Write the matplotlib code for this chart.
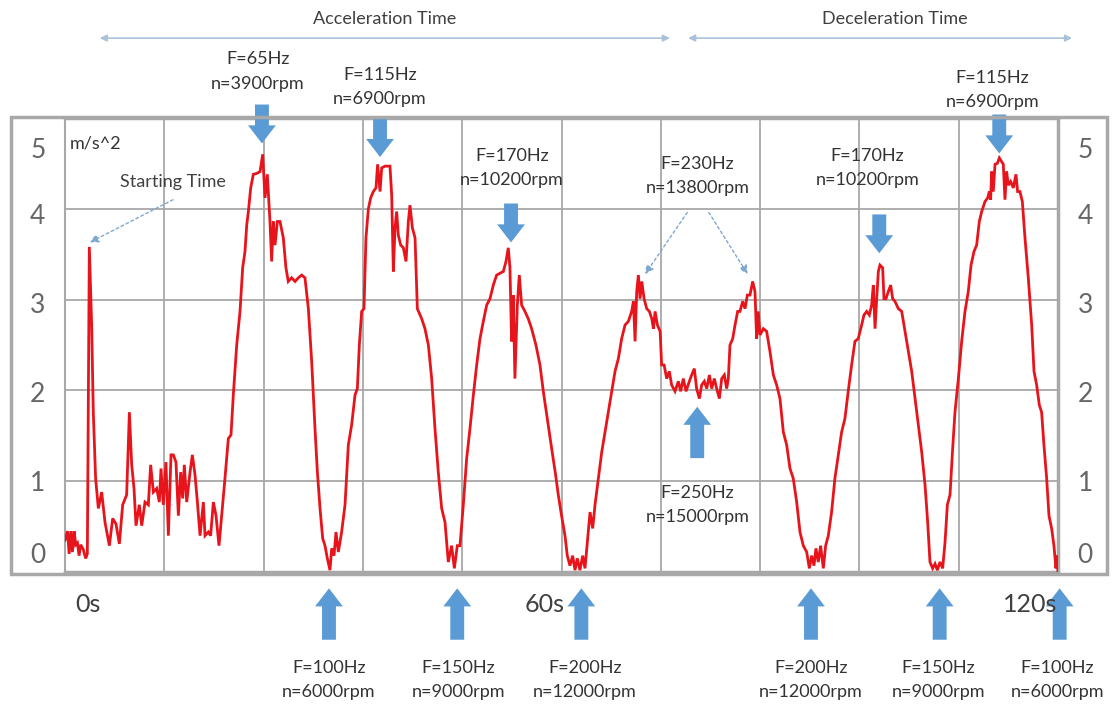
import matplotlib
matplotlib.use("Agg")
import matplotlib.pyplot as plt
from matplotlib.patches import Rectangle
from matplotlib.transforms import ScaledTranslation
import numpy as np

# ---------------- data ----------------
time_s = [0, 0.3, 0.5, 0.7, 0.9, 1.1, 1.3, 1.5, 1.7, 1.9, 2.2, 2.5, 2.7,
          2.94, 3.22, 3.42, 3.7, 4.03, 4.43, 4.83, 5.36, 5.76, 6.16, 6.57, 6.97, 7.45, 7.78, 8.06, 8.34, 8.58, 8.98,
          9.27, 9.67, 10.07, 10.35, 10.68, 11.08, 11.4, 11.6, 11.88, 12.2, 12.49, 12.81, 13.09, 13.41, 13.7, 13.98,
          14.22, 14.42, 14.71, 15.11, 15.39, 15.71, 16.0, 16.32, 16.72, 16.92, 17.32, 17.6, 17.93, 18.25, 18.61, 18.93,
          19.33, 19.74, 20.06, 20.34, 20.75, 21.15, 21.47, 21.75, 21.96, 22.16, 22.44, 22.76, 23.17, 23.57, 23.89,
          24.17, 24.45, 24.77, 24.97, 25.17, 25.38, 25.66, 25.98, 26.38, 26.7, 26.98, 27.39, 27.8, 28.2, 28.6, 29.0,
          29.41, 29.81, 30.21, 30.5, 30.82, 31.14, 31.42, 31.7, 32.02, 32.23, 32.51, 32.75, 33.03, 33.43, 33.84, 34.24,
          34.64, 35.05, 35.33, 35.57, 35.85, 36.13, 36.37, 36.66, 36.94, 37.26, 37.58, 37.78, 38.07, 38.27, 38.67,
          39.27, 39.48, 39.68, 39.88, 40.08, 40.28, 40.57, 40.89, 41.21, 41.49, 41.69, 41.98, 42.3, 42.58, 43.1, 43.5,
          43.91, 44.31, 44.71, 45.11, 45.52, 45.92, 46.32, 46.72, 47.05, 47.41, 47.73,
          48.1, 48.54, 48.94, 49.35, 49.75, 50.15, 50.55, 50.96, 51.36, 51.76, 52.16, 52.57, 52.97, 53.29, 53.57,
          53.77, 53.97, 54.17, 54.37, 54.66, 54.9, 55.18, 55.58, 55.98, 56.39, 56.91, 57.4, 57.8, 58.28, 58.81, 59.29,
          59.61, 60.01, 60.42, 60.7, 61.02, 61.35, 61.63, 61.91, 62.23, 62.56, 62.84, 63.12, 63.45, 63.77, 64.05,
          64.45, 64.86, 65.26, 65.66, 66.07, 66.47, 66.87, 67.27, 67.68, 68.08, 68.48, 68.69, 68.89, 69.09, 69.29,
          69.49, 69.7, 69.98, 70.3, 70.62, 70.91, 71.11, 71.31, 71.59, 71.92,
          72.1, 72.4, 72.71, 73.03, 73.31, 73.72, 74.12, 74.4, 74.72, 75.05, 75.45, 75.73, 76.05, 76.33, 76.66, 76.94,
          77.26, 77.55, 77.87, 78.15, 78.47, 78.75, 79.08, 79.36, 79.68, 79.96, 80.16, 80.36, 80.69, 80.97, 81.29,
          81.57, 81.89, 82.18, 82.46, 82.78, 83.1, 83.38, 83.58, 83.78, 83.99, 84.39, 84.79, 85.19, 85.6, 86.0, 86.4,
          86.81, 87.21, 87.61, 88.01, 88.42, 88.82, 89.22, 89.63, 89.95, 90.23, 90.51, 90.75, 91.03, 91.31, 91.64,
          91.92, 92.24, 92.64, 93.04, 93.45, 93.85, 94.25, 94.65, 95.06, 95.46, 95.86, 96.27,
          96.55, 96.88, 97.2, 97.48, 97.68, 97.89, 98.09, 98.29, 98.49, 98.81, 98.97, 99.21, 99.5, 99.78, 100.02,
          100.3, 100.71, 101.11, 101.51, 101.92, 102.32, 102.72, 103.12, 103.53, 103.93, 104.25, 104.53, 104.85,
          105.14, 105.42, 105.74, 106.06, 106.35, 106.63, 106.95, 107.27, 107.55, 107.96, 108.36, 108.76, 109.16,
          109.49, 109.85, 110.17, 110.49, 110.78, 111.18, 111.5, 111.7, 111.86, 111.98, 112.18, 112.39, 112.67,
          112.91, 113.19, 113.39, 113.59, 113.79, 114.0, 114.28, 114.6, 114.92, 115.12, 115.4, 115.69, 116.01,
          116.41, 116.82, 117.1, 117.42, 117.74, 118.02, 118.3, 118.63, 118.91, 119.23, 119.51, 119.75, 119.9, 120.0]

accel = [0.35, 0.45, 0.2, 0.45, 0.22, 0.45, 0.3, 0.32, 0.18, 0.3, 0.25, 0.15, 0.2,
         3.58, 2.72, 1.76, 1.03, 0.70, 0.88, 0.55, 0.29, 0.59, 0.53, 0.31, 0.74, 0.85, 1.76, 1.18, 0.92, 0.51, 0.74,
         0.51, 0.77, 0.74, 1.18, 0.88, 0.92, 0.77, 1.14, 0.74, 1.21, 0.40, 1.29, 1.29, 1.21, 0.62, 1.10,
         0.81, 1.18, 0.77, 1.10, 1.29, 1.07, 0.77, 0.40, 0.77, 0.40, 0.44, 0.40, 0.77, 0.62, 0.29, 0.62,
         1.03, 1.47, 1.51, 1.95, 2.5, 2.87, 3.35, 3.53, 3.82, 3.97, 4.23, 4.38, 4.39, 4.41, 4.6,
         4.12, 4.38, 3.86, 3.42, 3.86, 3.60, 3.86, 3.86, 3.68, 3.35, 3.2, 3.24, 3.2, 3.24, 3.27, 3.24,
         2.9, 2.32, 1.58, 1.10, 0.70, 0.37, 0.29, 0.15, 0.02, 0.26, 0.18, 0.44, 0.22, 0.44, 0.74, 1.40,
         1.62, 1.95, 2.02, 2.5, 2.87, 2.9, 3.68, 4.0, 4.12, 4.19, 4.23, 4.49, 4.19, 4.45, 4.47,
         4.47, 4.15, 3.31, 3.79, 3.97, 3.71, 3.6, 3.57, 3.42, 3.86, 4.04, 3.79, 3.68, 2.9, 2.79, 2.68,
         2.5, 2.13, 1.58, 1.10, 0.70, 0.55, 0.11, 0.29, 0.04, 0.29, 0.29,
         0.7, 1.25, 1.58, 1.95, 2.28, 2.57, 2.76, 2.94, 3.01, 3.16, 3.27, 3.29, 3.31, 3.42, 3.57,
         3.35, 2.54, 3.05, 2.13, 2.94, 3.27, 2.94, 2.87, 2.79, 2.68, 2.5, 2.28, 1.99, 1.69, 1.36, 1.07,
         0.85, 0.62, 0.40, 0.18, 0.07, 0.18, 0.02, 0.15, 0.02, 0.18, 0.04, 0.33, 0.66, 0.48, 0.74,
         1.03, 1.32, 1.54, 1.76, 1.99, 2.21, 2.35, 2.57, 2.72, 2.76, 2.87, 2.98, 2.54, 3.09, 3.27,
         3.01, 3.2, 3.01, 2.90, 2.87, 2.79, 2.68, 2.87, 2.72, 2.65,
         2.28, 2.28, 2.13, 2.21, 2.06, 1.99, 2.10, 1.99, 2.13, 1.99, 2.10, 2.17, 2.24, 2.02, 1.91, 2.06,
         2.10, 2.02, 2.17, 2.02, 2.13, 2.02, 1.91, 2.13, 2.17, 2.02, 2.13, 2.50, 2.57, 2.72, 2.87,
         2.87, 2.98, 2.90, 3.05, 3.05, 3.2, 3.09, 2.57, 2.87, 2.61, 2.68, 2.65, 2.43, 2.17, 2.06, 1.91,
         1.54, 1.40, 1.14, 1.03, 0.77, 0.44, 0.29, 0.22, 0.04, 0.18, 0.07, 0.26, 0.11, 0.29, 0.04,
         0.29, 0.40, 0.66, 1.03, 1.29, 1.54, 1.69, 1.99, 2.28, 2.54, 2.57, 2.72,
         2.83, 2.87, 2.83, 2.94, 3.16, 2.68, 3.01, 3.31, 3.38, 3.35, 3.01, 3.01, 3.09, 3.16, 3.01,
         2.98, 2.90, 2.87, 2.65, 2.43, 2.21, 1.91, 1.62, 1.32, 0.96, 0.55, 0.11, 0.04,
         0.09, 0.02, 0.11, 0.04, 0.33, 0.74, 0.85, 1.36, 1.76, 2.13, 2.54, 2.87, 3.09,
         3.38, 3.53, 3.60, 3.86, 3.97, 4.08, 4.12, 4.19, 4.10, 4.41, 4.19, 4.49, 4.50,
         4.56, 4.52, 4.49, 4.10, 4.41, 4.26, 4.30, 4.23, 4.38, 4.19, 4.19, 4.08, 3.68,
         3.24, 2.72, 2.21, 2.06, 1.84, 1.76, 1.40, 1.03, 0.62, 0.48, 0.29, 0.04, 0.18, 0.0]

y_ticks = [0, 1, 2, 3, 4, 5]
time_labels = ["0s", "60s", "120s"]
time_label_pos = [2.8, 58.0, 116.6]

# peak labels above the curve
top_labels = ["F=65Hz\nn=3900rpm", "F=115Hz\nn=6900rpm", "F=170Hz\nn=10200rpm",
              "F=230Hz\nn=13800rpm", "F=170Hz\nn=10200rpm", "F=115Hz\nn=6900rpm"]
top_label_t = [23.3, 38.07, 54.0, 76.4, 97.0, 112.1]
top_label_a = [5.51, 5.34, 4.45, 4.36, 4.45, 5.31]

# down arrows at peaks (tip t, tip a)
down_t = [23.8, 38.07, 53.9, 98.4, 112.9]
down_a = [4.72, 4.57, 3.63, 3.51, 4.61]

# valley labels below axis
bottom_labels = ["F=100Hz\nn=6000rpm", "F=150Hz\nn=9000rpm", "F=200Hz\nn=12000rpm",
                 "F=200Hz\nn=12000rpm", "F=150Hz\nn=9000rpm", "F=100Hz\nn=6000rpm"]
bottom_label_t = [31.9, 47.5, 62.8, 90.15, 105.5, 119.9]
up_t = [31.9, 47.4, 62.4, 90.15, 105.7, 120.2]

# ---------------- figure ----------------
plt.rcParams['font.family'] = ['Lato', 'DejaVu Sans']
fig = plt.figure(figsize=(11.13, 7.15), dpi=100)
ax = fig.add_axes([65/1113, 1-572/715, 993/1113, 454/715])

ax.plot(time_s, accel, color='#e8141b', lw=2.0, zorder=3, solid_joinstyle='miter')
ax.set_xlim(0, 120)
ax.set_ylim(0, 5)
ax.set_xticks(np.arange(0, 121, 12))
ax.set_yticks(y_ticks)
ax.grid(True, color='#a8a8a8', lw=1.3)
ax.tick_params(axis='x', length=0, labelbottom=False)
ax.tick_params(axis='y', length=0, labelleft=True, labelright=True, pad=14,
               labelsize=19, labelcolor='#666666')
for s in ax.spines.values():
    s.set_color('#a8a8a8')
ax.spines['left'].set_linewidth(1.5)
ax.spines['right'].set_linewidth(2.5)
ax.spines['top'].set_linewidth(2.5)
ax.spines['bottom'].set_linewidth(2.5)

# the printed labels of the end ticks sit inside the frame
shift_px = {5: -30, 4: -5, 3: -3, 2: -2, 1: 0, 0: 19}
for tick, v in zip(ax.yaxis.get_major_ticks(), y_ticks):
    off = ScaledTranslation(0, shift_px[v] / 100, fig.dpi_scale_trans)
    for lab in (tick.label1, tick.label2):
        lab.set_transform(lab.get_transform() + off)

# outer frame
fig.add_artist(Rectangle((11/1113, 1-574/715), 1096/1113, 457/715, transform=fig.transFigure,
                         fill=False, ec='#a8a8a8', lw=2.5))

blue = '#5b9bd5'
txt = dict(ha='center', va='center', fontsize=13, color='#333333', linespacing=1.65,
           annotation_clip=False)

for s, t, a in zip(top_labels, top_label_t, top_label_a):
    ax.annotate(s, (t, a), **txt)
for s, t in zip(bottom_labels, bottom_label_t):
    ax.annotate(s, (t, -1.19), **txt)
ax.annotate("F=250Hz\nn=15000rpm", (76.4, 0.74), **txt)

arrow_style = 'simple,head_width=2.0,head_length=1.3,tail_width=1.0'
aprops = dict(arrowstyle=arrow_style, mutation_scale=10, fc=blue, ec='none', shrinkA=0, shrinkB=0)
for t, a in zip(down_t, down_a):
    ax.annotate('', xy=(t, a), xytext=(0, 28), textcoords='offset points',
                annotation_clip=False, arrowprops=aprops)
for t in up_t:
    ax.annotate('', xy=(t, -0.18), xytext=(0, -37), textcoords='offset points',
                annotation_clip=False, arrowprops=aprops)
ax.annotate('', xy=(76.4, 1.82), xytext=(0, -37), textcoords='offset points',
            annotation_clip=False, arrowprops=aprops)

# time labels
for s, t in zip(time_labels, time_label_pos):
    ax.annotate(s, (t, -0.36), ha='center', va='center', fontsize=18, color='#404040',
                annotation_clip=False)

# unit + starting time
ax.annotate("m/s^2", (0.6, 4.72), ha='left', va='center', fontsize=13, color='#333333')
ax.annotate("Starting Time", (13.05, 4.3), ha='center', va='center', fontsize=13, color='#404040')

dotted = dict(arrowstyle='-|>,head_width=0.25,head_length=0.5', color='#7fa7cf', lw=1,
              linestyle=(0, (2, 2)), shrinkA=0, shrinkB=0, mutation_scale=10)
ax.annotate('', xy=(3.0, 3.63), xytext=(13.05, 4.1), arrowprops=dotted)
ax.annotate('', xy=(70.1, 3.28), xytext=(75.2, 3.96), arrowprops=dotted)
ax.annotate('', xy=(82.5, 3.28), xytext=(77.8, 3.96), arrowprops=dotted)

# acceleration / deceleration spans
span = dict(arrowstyle='<|-|>,head_width=0.2,head_length=0.4', color='#a9c2d9', lw=1.2,
            shrinkA=0, shrinkB=0)
ax.annotate('', xy=(4.2, 5.88), xytext=(73.1, 5.88), arrowprops=span, annotation_clip=False)
ax.annotate('', xy=(75.3, 5.88), xytext=(121.7, 5.88), arrowprops=span, annotation_clip=False)
ax.annotate("Acceleration Time", (38.67, 6.09), ha='center', va='center', fontsize=13,
            color='#404040', annotation_clip=False)
ax.annotate("Deceleration Time", (100.3, 6.09), ha='center', va='center', fontsize=13,
            color='#404040', annotation_clip=False)

fig.savefig("out.png", dpi=100)
